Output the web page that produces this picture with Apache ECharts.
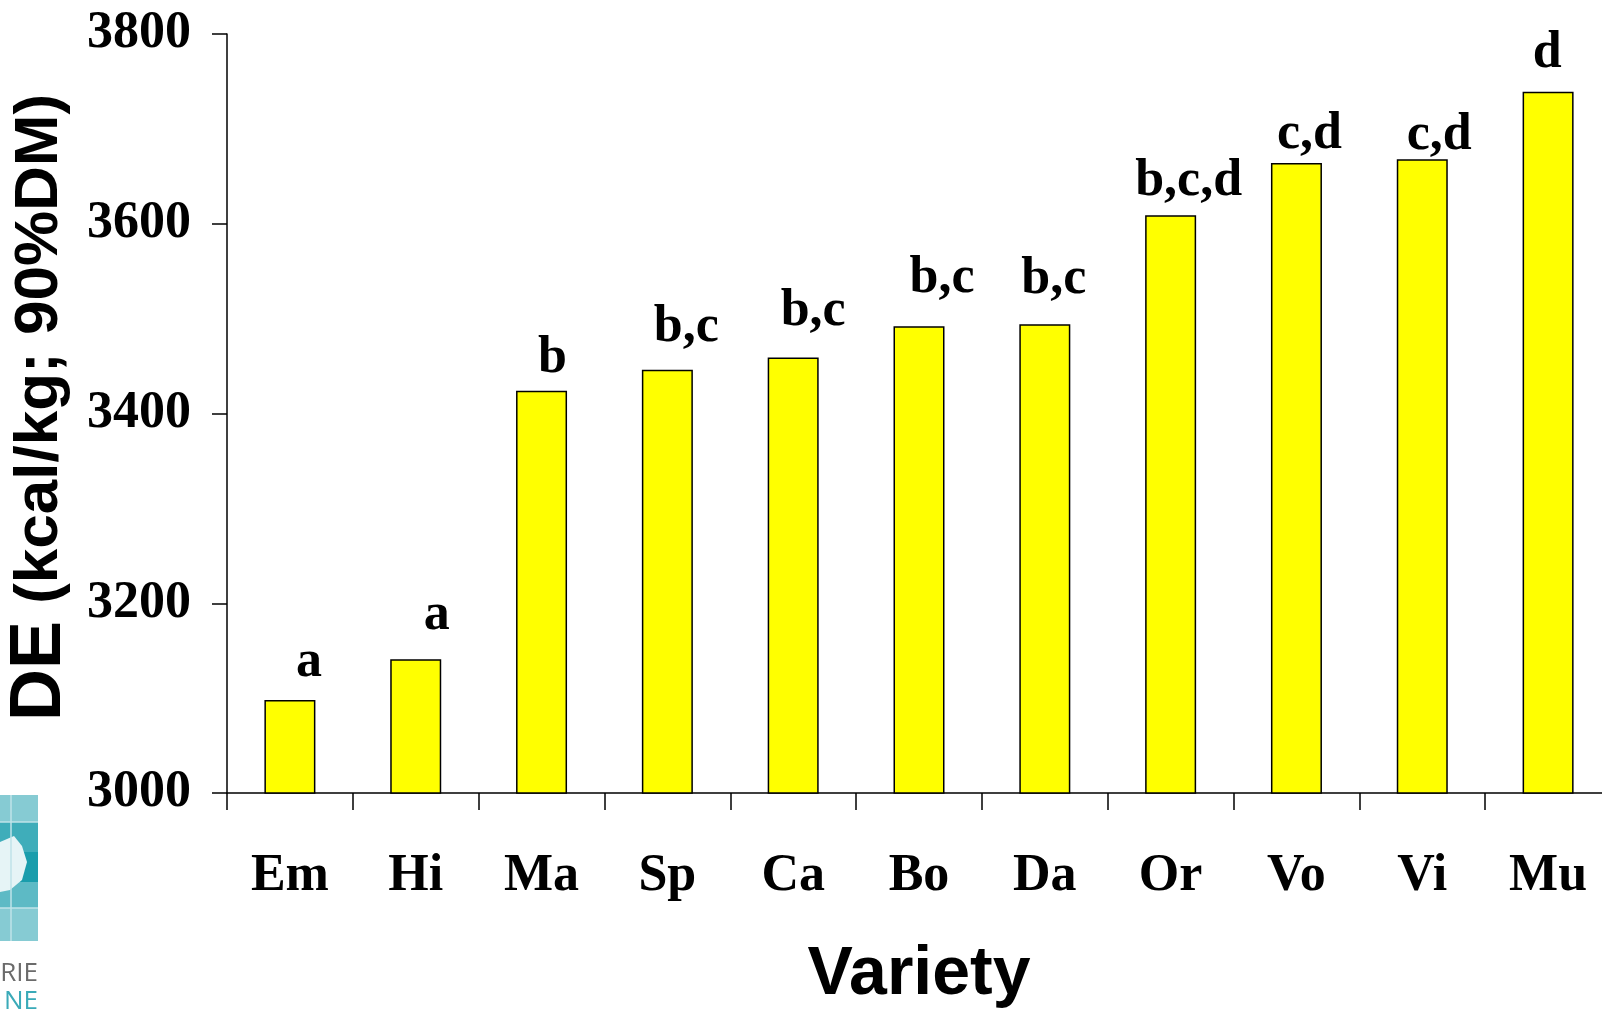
<!DOCTYPE html>
<html>
<head>
<meta charset="utf-8">
<title>DE by variety</title>
<script src="https://cdn.jsdelivr.net/npm/echarts@6/dist/echarts.min.js"></script>
<style>
  html, body { margin: 0; padding: 0; background: #ffffff; }
  #chart { width: 1602px; height: 1013px; }
</style>
</head>
<body>
<div id="chart"></div>
<script>
// Digestible energy per variety (kcal/kg at 90% DM)
const varieties = ['Em', 'Hi', 'Ma', 'Sp', 'Ca', 'Bo', 'Da', 'Or', 'Vo', 'Vi', 'Mu'];
const deValues = [3098, 3141, 3424, 3446, 3459, 3492, 3494, 3609, 3664, 3668, 3739];
// Significance groups written above each bar
const groupLetters = ['a', 'a', 'b', 'b,c', 'b,c', 'b,c', 'b,c', 'b,c,d', 'c,d', 'c,d', 'd'];
// Value axis range and step
const yMin = 3000;
const yMax = 3800;
const yStep = 200;

// Hand placement of the group letters relative to the top of each bar [dx, dy]
const letterNudge = [
  [19, -11], [21, -18], [11, -6], [19, -16], [20, -20], [23, -22],
  [9, -19], [18, -8], [13, -2], [17, 2], [-1, -12]
];

const serif = '"Liberation Serif", "Times New Roman", serif';
const sans = '"Liberation Sans", Arial, sans-serif';

const chart = echarts.init(document.getElementById('chart'), null, { renderer: 'canvas' });

const barData = deValues.map((v, i) => ({
  value: v,
  label: {
    formatter: groupLetters[i],
    offset: letterNudge[i]
  }
}));

chart.setOption({
  animation: false,
  backgroundColor: '#ffffff',
  grid: {
    left: 227, top: 34, bottom: 220, right: -9,
    containLabel: false,
    outerBoundsMode: 'none'
  },
  xAxis: {
    type: 'category',
    data: varieties,
    name: 'Variety',
    nameLocation: 'middle',
    nameGap: 148,
    nameTextStyle: { fontFamily: sans, fontWeight: 'bold', fontSize: 68, color: '#000' },
    axisLine: { show: true, lineStyle: { color: '#000', width: 1.5 } },
    axisTick: { show: true, interval: 0, length: 17, lineStyle: { color: '#000', width: 1.5 } },
    axisLabel: {
      interval: 0, margin: 58,
      fontFamily: serif, fontWeight: 'bold', fontSize: 52, color: '#000'
    },
    splitLine: { show: false }
  },
  yAxis: {
    type: 'value',
    min: yMin,
    max: yMax,
    interval: yStep,
    name: '{big|DE}{small| (kcal/kg; 90%DM)}',
    nameLocation: 'middle',
    nameRotate: 90,
    nameGap: 135,
    nameTextStyle: {
      color: '#000',
      padding: [0, 0, 0, 12],
      rich: {
        big: { fontFamily: sans, fontWeight: 'bold', fontSize: 72, color: '#000' },
        small: { fontFamily: sans, fontWeight: 'bold', fontSize: 62, color: '#000' }
      }
    },
    axisLine: { show: true, lineStyle: { color: '#000', width: 1.5 } },
    axisTick: { show: true, length: 15, lineStyle: { color: '#000', width: 1.5 } },
    axisLabel: {
      margin: 36,
      padding: [3, 0, 0, 0],
      formatter: (v) => String(v),
      fontFamily: serif, fontWeight: 'bold', fontSize: 52, color: '#000'
    },
    splitLine: { show: false }
  },
  series: [{
    type: 'bar',
    data: barData,
    barWidth: 51,
    itemStyle: { color: '#ffff00', borderColor: '#000', borderWidth: 1.5 },
    label: {
      show: true,
      position: 'top',
      distance: 0,
      fontFamily: serif, fontWeight: 'bold', fontSize: 52, color: '#000'
    }
  }],
  // Corner of the society logo
  graphic: [
    { type: 'rect', shape: { x: 0, y: 795, width: 38, height: 146 }, style: { fill: '#86cbd3' } },
    { type: 'rect', shape: { x: 0, y: 822, width: 38, height: 30 }, style: { fill: '#3fadba' } },
    { type: 'rect', shape: { x: 0, y: 852, width: 38, height: 30 }, style: { fill: '#1a9dac' } },
    { type: 'rect', shape: { x: 0, y: 882, width: 38, height: 26 }, style: { fill: '#5dbac5' } },
    { type: 'polygon', shape: { points: [[0, 842], [14, 836], [22, 846], [27, 862], [22, 880], [10, 890], [0, 892]] }, style: { fill: '#e6f4f6' } },
    { type: 'line', shape: { x1: 11, y1: 795, x2: 11, y2: 941 }, style: { stroke: '#bfe3e8', lineWidth: 1.5 } },
    { type: 'line', shape: { x1: 0, y1: 822, x2: 38, y2: 822 }, style: { stroke: '#bfe3e8', lineWidth: 1.5 } },
    { type: 'line', shape: { x1: 0, y1: 908, x2: 38, y2: 908 }, style: { stroke: '#bfe3e8', lineWidth: 1.5 } },
    { type: 'text', style: { x: 38, y: 961, text: 'RIE', align: 'right', verticalAlign: 'top', font: '26px "Open Sans", sans-serif', fill: '#6b6b6b' } },
    { type: 'text', style: { x: 38, y: 989, text: 'NE', align: 'right', verticalAlign: 'top', font: '26px "Open Sans", sans-serif', fill: '#3aaab8' } }
  ]
});
</script>
</body>
</html>
